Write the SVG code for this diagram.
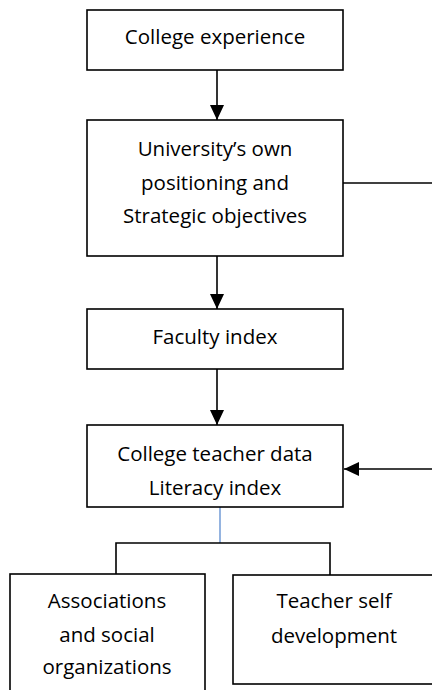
<svg xmlns="http://www.w3.org/2000/svg" width="432" height="690" viewBox="0 0 432 690">
<defs>
<style>
.box{fill:#fff;stroke:#000;stroke-width:1.6}
.ln{fill:none;stroke:#000;stroke-width:1.6}
.blue{fill:none;stroke:#5b8bd0;stroke-width:1.3}
text{font-family:"Open Sans","Liberation Sans",sans-serif;font-size:20.5px;fill:#000;text-anchor:middle}
</style>
<marker id="ah" viewBox="0 0 15 14" refX="15" refY="7" markerWidth="15" markerHeight="14" markerUnits="userSpaceOnUse" orient="auto">
<path d="M0,0 L15,7 L0,14 Z" fill="#000"/>
</marker>
</defs>
<g id="connectors">
<line class="ln" x1="217" y1="70" x2="217" y2="120" marker-end="url(#ah)"/>
<line class="ln" x1="217" y1="256" x2="217" y2="309" marker-end="url(#ah)"/>
<line class="ln" x1="217" y1="369" x2="217" y2="425" marker-end="url(#ah)"/>
<line class="ln" x1="343" y1="183" x2="434" y2="183"/>
<line class="ln" x1="434" y1="469" x2="344" y2="469" marker-end="url(#ah)"/>
<line class="blue" x1="220" y1="507" x2="220" y2="543"/>
<polyline class="ln" points="116,574 116,543 330,543 330,575"/>
</g>
<g id="n1"><rect class="box" x="87" y="10" width="256" height="60"/><text x="215" y="44">College experience</text></g>
<g id="n2"><rect class="box" x="87" y="120" width="256" height="136"/>
<text x="215" y="156">University’s own</text>
<text x="215" y="190">positioning and</text>
<text x="215" y="223">Strategic objectives</text></g>
<g id="n3"><rect class="box" x="87" y="309" width="256" height="60"/><text x="215" y="344">Faculty index</text></g>
<g id="n4"><rect class="box" x="87" y="425" width="256" height="82"/>
<text x="215" y="461">College teacher data</text>
<text x="215" y="495">Literacy index</text></g>
<g id="n5"><rect class="box" x="10" y="574" width="195" height="130"/>
<text x="107" y="608">Associations</text>
<text x="107" y="642">and social</text>
<text x="107" y="674">organizations</text></g>
<g id="n6"><rect class="box" x="233" y="575" width="202" height="109"/>
<text x="334" y="608">Teacher self</text>
<text x="334" y="643">development</text></g>
</svg>
